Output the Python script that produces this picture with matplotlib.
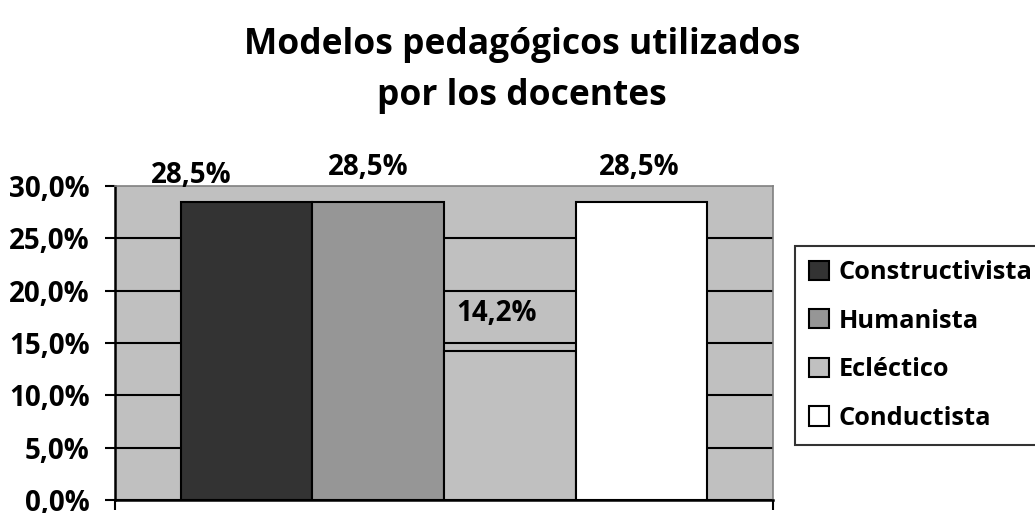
import matplotlib
matplotlib.use("Agg")
import matplotlib.pyplot as plt
from matplotlib.ticker import FuncFormatter

title = "Modelos pedagógicos utilizados\npor los docentes"
series = ["Constructivista", "Humanista", "Ecléctico", "Conductista"]
values = [28.5, 28.5, 14.2, 28.5]
colors = ["#333333", "#969696", "#C0C0C0", "#FFFFFF"]
label_offsets = [(-55, 26), (-10, 34), (-13, 38), (-2, 34)]  # pixels
yticks = [0, 5, 10, 15, 20, 25, 30]

plt.rcParams['font.family'] = ['Open Sans', 'DejaVu Sans']
plt.rcParams['font.weight'] = 'bold'
FS = 20
LFS = 18.3

fig = plt.figure(figsize=(10.35, 5.13), dpi=100)
ax = fig.add_axes([115/1035, 1-500/513, (773-115)/1035, (500-186)/513])
ax.set_facecolor("#C0C0C0")

n = len(series)
width = 0.8 / n
for i, (s, v, c) in enumerate(zip(series, values, colors)):
    x = -0.4 + width*(i+0.5)
    ax.bar(x, v, width=width, color=c, edgecolor="black", linewidth=1.5,
           label=s, zorder=3)
    dx, dy = label_offsets[i]
    ax.annotate(f"{v:.1f}%".replace(".", ","), (x, v), xytext=(dx, dy),
                textcoords="offset pixels", ha="center", va="center",
                fontsize=FS, fontweight="bold", annotation_clip=False)

ax.set_xlim(-0.5, 0.5)
ax.set_ylim(0, 30)
ax.set_yticks(yticks)
ax.yaxis.set_major_formatter(FuncFormatter(lambda v, p: f"{v:.1f}%".replace(".", ",")))
ax.set_xticks([-0.5, 0.5])
ax.set_xticklabels(["", ""])
ax.tick_params(axis="y", direction="out", length=7.2, width=1.5, labelsize=FS, pad=11)
ax.tick_params(axis="x", direction="out", length=7.2, width=1.5)
for lbl in ax.get_yticklabels():
    lbl.set_fontweight("bold")

ax.grid(axis="y", color="black", linewidth=1.5, zorder=1)
ax.set_axisbelow(True)
gl = ax.yaxis.get_gridlines()
gl[-1].set_visible(False)

for side in ["left", "bottom"]:
    ax.spines[side].set_color("black")
    ax.spines[side].set_linewidth(1.8)
for side in ["top", "right"]:
    ax.spines[side].set_color("#808080")
    ax.spines[side].set_linewidth(1.2)

fig.text(522/1035, 1-105/513, title, ha="center", va="baseline", fontsize=25.5,
         fontweight="bold", linespacing=1.55)

leg = fig.legend(loc="upper left", bbox_to_anchor=(795/1035, 1-246/513),
                 frameon=True, fancybox=False, edgecolor="black",
                 fontsize=LFS, handlelength=0.79, handleheight=0.79,
                 handletextpad=0.39, labelspacing=0.93, borderpad=0.55,
                 borderaxespad=0)
leg.get_frame().set_linewidth(1.5)
for t in leg.get_texts():
    t.set_fontweight("bold")

fig.savefig("out.png", dpi=100)
